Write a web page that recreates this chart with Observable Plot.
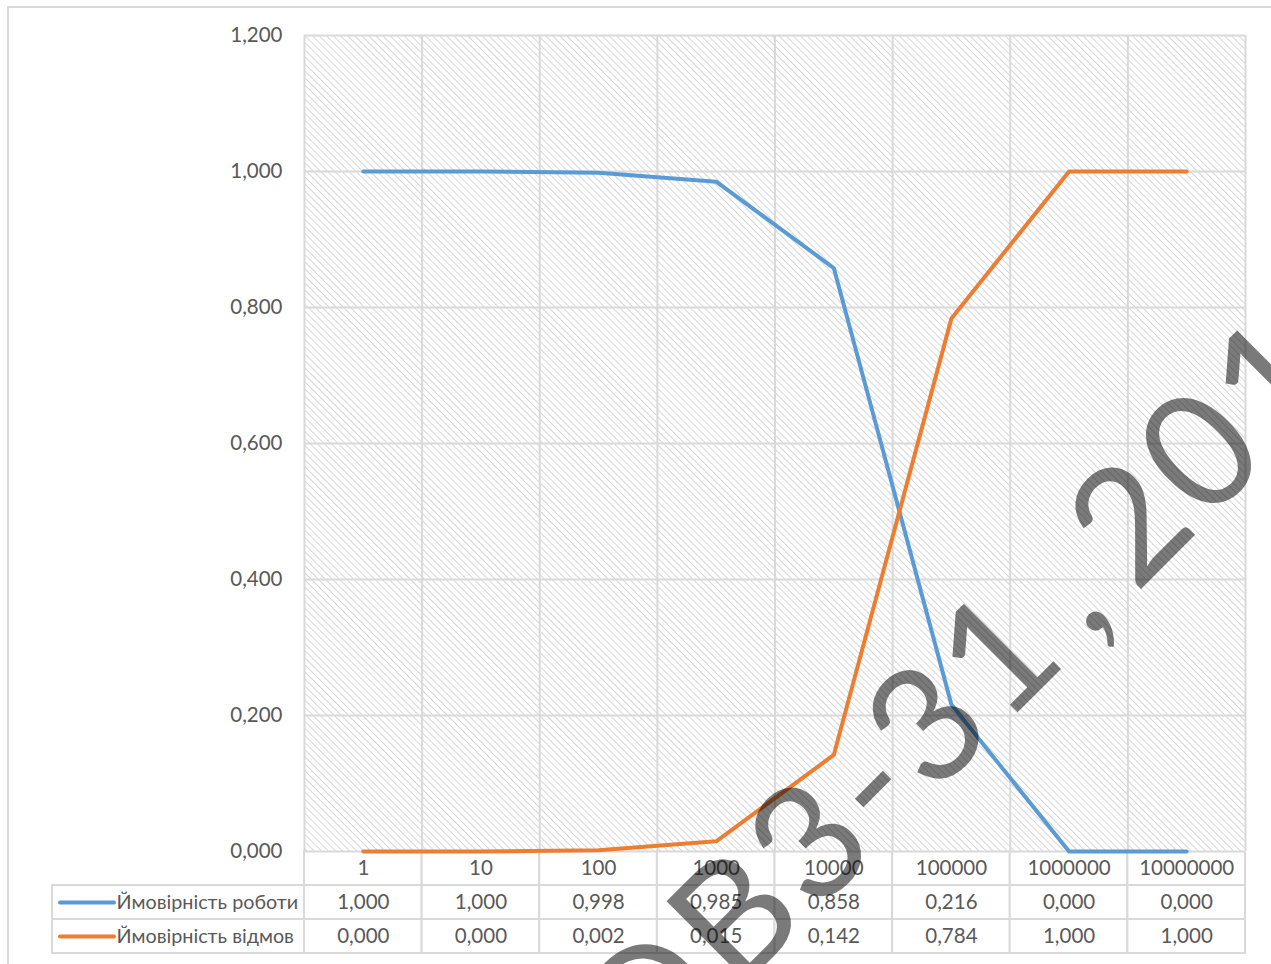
<!DOCTYPE html>
<html>
<head>
<meta charset="utf-8">
<script src="https://cdn.jsdelivr.net/npm/d3@7"></script>
<script src="https://cdn.jsdelivr.net/npm/@observablehq/plot@0.6"></script>
<style>
  html, body { margin: 0; padding: 0; background: #fff; }
  #wrap { position: relative; width: 1271px; height: 964px; overflow: hidden; background: #fff; font-family: Lato, sans-serif; }
  #chart, #table, #wm, #frame { position: absolute; }
  #table { left: 0; top: 850px; z-index: 1; }
  #chart { left: 0; top: 0; z-index: 2; }
  #frame { left: 7px; top: 6px; width: 1400px; height: 1100px; border: 2px solid #d9d9d9; box-sizing: border-box; pointer-events: none; z-index: 3; }
  #wm { left: 0; top: 0; pointer-events: none; z-index: 4; }
</style>
</head>
<body>
<div id="wrap">
  <div id="table"></div>
  <div id="chart"></div>
  <div id="frame"></div>
  <svg id="wm" width="1271" height="964"></svg>
</div>
<script>
// ---- data ----
const categories = ["1", "10", "100", "1000", "10000", "100000", "1000000", "10000000"];
const workProb = [1.000, 1.000, 0.998, 0.985, 0.858, 0.216, 0.000, 0.000];
const failProb = [0.000, 0.000, 0.002, 0.015, 0.142, 0.784, 1.000, 1.000];
const seriesNames = ["Ймовірність роботи", "Ймовірність відмов"];
const seriesColors = ["#5B9BD5", "#ED7D31"];
const yTicks = [0, 0.2, 0.4, 0.6, 0.8, 1.0, 1.2];
const watermark = "DB3-31 , 2017";

// ---- derived ----
const n = categories.length;
const seriesValues = [workProb, failProb];
const rows = [];
seriesValues.forEach((vals, s) => vals.forEach((v, i) => rows.push({series: seriesNames[s], i, v})));
const fmt = v => d3.format(".3f")(v).replace(".", ",");
const textColor = "#595959";
const gridColor = "#d9d9d9";

const W = 1271;
const plotLeft = 304, plotRight = 1245, plotTop = 35, plotBottom = 851;
const colPx = (plotRight - plotLeft) / n;
const legendLeftPx = 52;
const legendSpan = (plotLeft - legendLeftPx) / colPx;
const legendX0 = -0.5 - legendSpan;

// ---- main chart ----
const chart = Plot.plot({
  width: W,
  height: plotBottom + 20,
  marginLeft: plotLeft,
  marginRight: W - plotRight,
  marginTop: plotTop,
  marginBottom: 20,
  style: {background: "none", fontFamily: "Lato, sans-serif"},
  x: {domain: [-0.5, n - 0.5], axis: null},
  y: {domain: [0, 1.2], axis: null},
  color: {domain: seriesNames, range: seriesColors},
  marks: [
    Plot.frame({fill: "url(#hatch)", stroke: "none"}),
    Plot.ruleY(yTicks, {stroke: gridColor, strokeWidth: 2}),
    Plot.ruleX(d3.range(n + 1), {x: i => i - 0.5, stroke: gridColor, strokeWidth: 2}),
    Plot.axisY(yTicks, {tickFormat: fmt, tickSize: 0, tickPadding: 22, fontSize: 20.5, fill: textColor, label: null}),
    Plot.line(rows, {x: "i", y: "v", z: "series", stroke: "series", strokeWidth: 4, strokeLinejoin: "round"})
  ]
});
// hatch pattern for the plot area
const svg1 = d3.select(chart.tagName.toLowerCase() === "svg" ? chart : chart.querySelector("svg"));
const defs = svg1.insert("defs", ":first-child");
const pat = defs.append("pattern").attr("id", "hatch").attr("patternUnits", "userSpaceOnUse")
  .attr("width", 5).attr("height", 5).attr("patternTransform", "rotate(-45)");
pat.append("rect").attr("width", 5).attr("height", 5).attr("fill", "#ffffff");
pat.append("line").attr("x1", 0).attr("y1", 0).attr("x2", 0).attr("y2", 5)
  .attr("stroke", "#cdcdcd").attr("stroke-width", 1.6);
document.getElementById("chart").appendChild(chart);

// ---- data table ----
const rowKeys = ["head", "s0", "s1"];
const cells = [];
categories.forEach((c, i) => cells.push({row: "head", i, text: c}));
seriesValues.forEach((vals, s) => vals.forEach((v, i) => cells.push({row: "s" + s, i, text: fmt(v)})));
const legendRows = seriesNames.map((name, s) => ({row: "s" + s, name, color: seriesColors[s]}));

const table = Plot.plot({
  width: W,
  height: 1 + 102 + 3,
  marginLeft: legendLeftPx,
  marginRight: W - plotRight,
  marginTop: 1,
  marginBottom: 3,
  style: {background: "none", fontFamily: "Lato, sans-serif"},
  x: {domain: [legendX0, n - 0.5], axis: null},
  y: {domain: rowKeys, axis: null, padding: 0},
  marks: [
    Plot.barX(cells, {x1: d => d.i - 0.5, x2: d => d.i + 0.5, y: "row", fill: "white", stroke: gridColor, strokeWidth: 2}),
    Plot.barX(legendRows, {x1: legendX0, x2: -0.5, y: "row", fill: "white", stroke: gridColor, strokeWidth: 2}),
    Plot.text(cells, {x: "i", y: "row", text: "text", fontSize: 20.5, fill: textColor}),
    Plot.ruleY(legendRows, {y: "row", x1: legendX0 + 8 / colPx, x2: legendX0 + 62 / colPx, stroke: d => d.color, strokeWidth: 4, strokeLinecap: "round"}),
    Plot.text(legendRows, {x: legendX0 + 64 / colPx, y: "row", text: "name", textAnchor: "start", fontSize: 19.8, fill: textColor})
  ]
});
document.getElementById("table").appendChild(table);

// ---- watermark ----
function drawWatermark() {
  const fs = 160;
  const wm = d3.select("#wm");
  const g = wm.append("g");
  const t = g.append("text")
    .attr("x", 0).attr("y", 0)
    .attr("font-family", "Lato, sans-serif")
    .attr("font-size", fs)
    .attr("letter-spacing", 7)
    .attr("word-spacing", -26)
    .attr("fill", "#000")
    .attr("fill-opacity", 0.52)
    .text(watermark);
  const idx = watermark.indexOf("2");
  let uc = 0;
  try {
    const ext = t.node().getExtentOfChar(idx);
    uc = ext.x + (ext.width - 7) / 2;
  } catch (e) { uc = 0; }
  const vc = 0.358 * fs;
  g.attr("transform", `translate(1128,521) rotate(-45) translate(${-uc},${vc})`);
}
if (document.fonts && document.fonts.ready) document.fonts.ready.then(drawWatermark); else drawWatermark();
</script>
</body>
</html>
